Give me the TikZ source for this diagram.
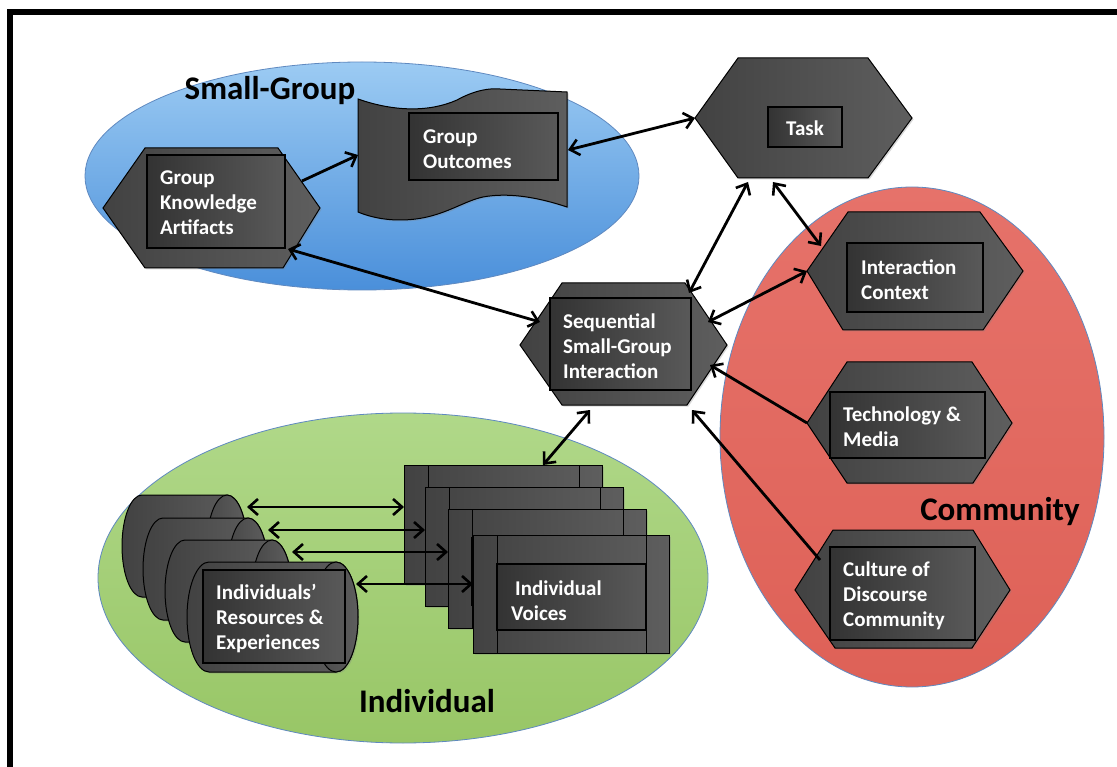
\documentclass[tikz,border=0pt]{standalone}
\usepackage{fontspec}
\setmainfont{Carlito}
\usetikzlibrary{arrows.meta,shadows}
\definecolor{hexL}{HTML}{424242}
\definecolor{hexR}{HTML}{5E5E5E}
\definecolor{boxL}{HTML}{333333}
\definecolor{boxR}{HTML}{595959}
\definecolor{blueTop}{HTML}{9CCBF3}
\definecolor{blueBot}{HTML}{4A8FDA}
\definecolor{greenTop}{HTML}{B0D889}
\definecolor{greenBot}{HTML}{98C666}
\definecolor{redTop}{HTML}{E6726A}
\definecolor{redBot}{HTML}{DE6157}
\definecolor{ringEdge}{HTML}{5F89C0}
\newcommand\drawcyl[5]{%
  \pgfmathsetmacro\cymid{(#3+#4)/2}%
  \pgfmathsetmacro\cyh{(#4-#3)/2}%
  \draw[shapebox] (#1+#5,#3) -- (#2-#5,#3)
     arc[start angle=-90,end angle=90,x radius=#5,y radius=\cyh]
     -- (#1+#5,#4)
     arc[start angle=90,end angle=270,x radius=#5,y radius=\cyh] -- cycle;
  \draw[capface] (#2-#5,\cymid) ellipse[x radius=#5,y radius=\cyh];
}
\newcommand\drawvoice[4]{%
  \draw[shapebox] (#1,#3) rectangle (#2,#4);
  \draw[line width=1pt] (#1+24,#3) -- (#1+24,#4) (#2-23,#3) -- (#2-23,#4);
  \draw[innerbox] (#1+24,#3+29) rectangle (#2-23,#4-23);
}
\begin{document}
\begin{tikzpicture}[x=1pt,y=-1pt,
  shapebox/.style={draw=black, line width=1pt, left color=hexL, right color=hexR,
    drop shadow={opacity=0.3,shadow xshift=1.5pt,shadow yshift=-1.5pt}},
  capface/.style={draw=black, line width=1pt, left color=hexL!80!hexR, right color=hexR},
  innerbox/.style={draw=black, line width=1.2pt, left color=boxL, right color=boxR},
  txt/.style={text=white, font=\fontsize{21}{25}\selectfont\bfseries, align=left, anchor=west, inner sep=0pt},
  grouplabel/.style={font=\fontsize{33}{36}\selectfont\bfseries, text=black, inner sep=0pt, anchor=base},
  tipb/.tip={Straight Barb[length=9pt,width=16pt,line width=2.6pt]},
  link/.style={line width=2.8pt, -tipb},
  bilink/.style={line width=2.8pt, tipb-tipb},
]
\useasboundingbox (0,0) rectangle (1117,767);
\fill[white] (0,0) rectangle (1117,767);
% frame
\fill[black] (7,9) rectangle (1117,15);
\fill[black] (7,9) rectangle (13,767);

% group regions
\path[draw=ringEdge, line width=0.8pt, top color=blueTop, bottom color=blueBot]
  (362,176) ellipse[x radius=277, y radius=114];
\path[draw=ringEdge, line width=0.8pt, top color=greenTop, bottom color=greenBot]
  (403,578) ellipse[x radius=305, y radius=165];
\path[draw=ringEdge, line width=0.8pt, top color=redTop, bottom color=redBot]
  (912,437) ellipse[x radius=192, y radius=250];

\node[grouplabel] (lblSmall) at (270,100) {Small-Group};
\node[grouplabel] (lblComm) at (1000,520) {Community};
\node[grouplabel] (lblInd) at (427,712) {Individual};

% Group Knowledge Artifacts
\draw[shapebox] (103,208) -- (145,148) -- (278,148) -- (320,208) -- (283,268) -- (145,268) -- cycle;
\draw[innerbox] (147,155) rectangle (285,248);
\node[txt] (gka) at (160,203) {Group\\Knowledge\\Artifacts};

% Group Outcomes (tape)
\draw[shapebox] (358,99) .. controls (395,112) and (430,112) .. (457,100)
  .. controls (475,90) and (490,88) .. (500,89) -- (567,92) -- (567,207)
  .. controls (540,198) and (510,192) .. (483,197)
  .. controls (460,202) and (440,220) .. (400,220)
  .. controls (380,220) and (365,215) .. (358,212) -- cycle;
\draw[innerbox] (409,113) rectangle (558,180);
\node[txt] (go) at (423,149) {Group\\Outcomes};

% Task
\draw[shapebox] (695,118) -- (738,58) -- (868,58) -- (912,118) -- (868,178) -- (738,178) -- cycle;
\draw[innerbox] (768,107) rectangle (842,147);
\node[txt, anchor=center] (task) at (805,128) {Task};

% Interaction Context
\draw[shapebox] (807,271) -- (848,212) -- (980,212) -- (1023,271) -- (983,330) -- (843,330) -- cycle;
\draw[innerbox] (847,243) rectangle (983,312);
\node[txt] (ic) at (861,280) {Interaction\\Context};

% Sequential Small-Group Interaction
\draw[shapebox] (520,345) -- (562,283) -- (685,283) -- (727,345) -- (687,405) -- (562,405) -- cycle;
\draw[innerbox] (550,298) rectangle (691,390);
\node[txt] (seq) at (563,346) {Sequential\\Small-Group\\Interaction};

% Technology & Media
\draw[shapebox] (807,423) -- (847,362) -- (972,362) -- (1012,423) -- (973,483) -- (847,483) -- cycle;
\draw[innerbox] (830,392) rectangle (985,458);
\node[txt] (tech) at (843,427) {Technology \&\\Media};

% Culture of Discourse Community
\draw[shapebox] (795,590) -- (833,530) -- (973,530) -- (1010,590) -- (972,648) -- (835,648) -- cycle;
\draw[innerbox] (830,547) rectangle (975,640);
\node[txt] (cult) at (843,596) {Culture of\\Discourse\\Community};

% Individuals' resources (cylinders)
\drawcyl{122}{247}{495}{597}{20}
\drawcyl{143}{268}{518}{620}{20}
\drawcyl{165}{292}{540}{642}{20}
\drawcyl{187}{358}{562}{672}{22}
\draw[innerbox] (203,570) rectangle (345,663);
\node[txt] (ire) at (216,619) {Individuals’\\Resources \&\\Experiences};

% Individual voices (stack)
\drawvoice{404}{602}{465}{584}
\drawvoice{425}{623}{487}{606}
\drawvoice{448}{646}{509}{628}
\drawvoice{473}{669}{535}{653}
\node[txt] (iv) at (511,601) {\hspace{4pt}Individual\\Voices};

% connector end points
\coordinate (gkaOut) at (302,181);
\coordinate (goIn) at (358,155);
\coordinate (goR) at (568,150);
\coordinate (taskL) at (695,118);
\coordinate (gkaBR) at (288,249);
\coordinate (seqL) at (540,322);
\coordinate (taskB1) at (748,182);
\coordinate (seqT) at (689,293);
\coordinate (taskB2) at (773,182);
\coordinate (icTL) at (821,246);
\coordinate (seqR) at (708,322);
\coordinate (icL) at (807,271);
\coordinate (techL) at (807,423);
\coordinate (seqR2) at (710,365);
\coordinate (cultTL) at (820,560);
\coordinate (seqBR) at (692,410);
\coordinate (seqB) at (590,410);
\coordinate (ivT) at (543,465);
\coordinate (cyA) at (247,507); \coordinate (ivA) at (404,507);
\coordinate (cyB) at (268,530); \coordinate (ivB) at (425,530);
\coordinate (cyC) at (292,552); \coordinate (ivC) at (448,552);
\coordinate (cyD) at (356,584); \coordinate (ivD) at (473,584);

% connectors
\draw[link] (gkaOut) -- (goIn);
\draw[bilink] (goR) -- (taskL);
\draw[bilink] (gkaBR) -- (seqL);
\draw[bilink] (taskB1) -- (seqT);
\draw[bilink] (taskB2) -- (icTL);
\draw[bilink] (seqR) -- (icL);
\draw[link] (techL) -- (seqR2);
\draw[link] (cultTL) -- (seqBR);
\draw[bilink] (seqB) -- (ivT);
\draw[bilink] (cyA) -- (ivA);
\draw[bilink] (cyB) -- (ivB);
\draw[bilink] (cyC) -- (ivC);
\draw[bilink] (cyD) -- (ivD);
\end{tikzpicture}
\end{document}
